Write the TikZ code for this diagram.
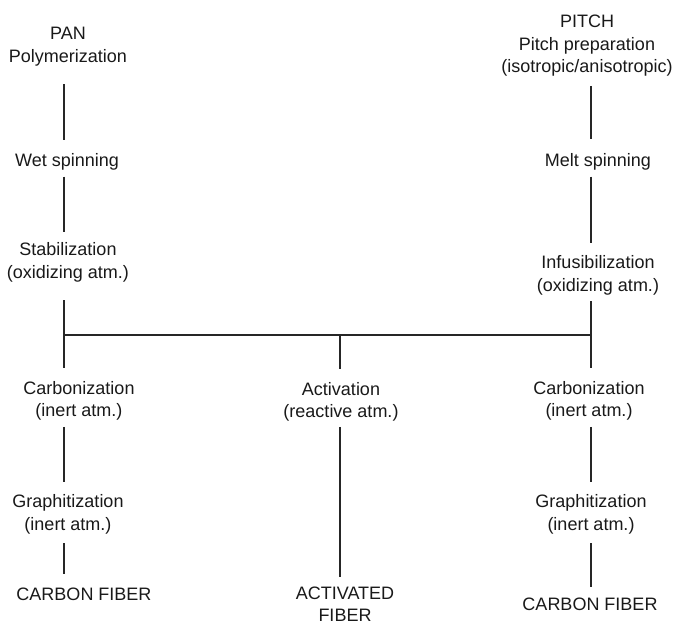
\documentclass[tikz,border=0pt]{standalone}
\usepackage{fontspec}
\setmainfont{Liberation Sans}
\usepackage{tikz}
\usetikzlibrary{positioning}

\begin{document}
\begin{tikzpicture}[
    x=1pt, y=-1pt,
    every node/.style={inner sep=0pt, align=center, text=black!90,
                       font=\fontsize{18}{22.5}\selectfont},
    link/.style={draw=black!85, line width=1.2pt,
                 shorten <=6pt, shorten >=13pt},
    bar/.style={draw=black!85, line width=1.2pt}
  ]
  \useasboundingbox (0,0) rectangle (674,621);

  % columns of the three routes
  \coordinate (colL) at (64,0);
  \coordinate (colM) at (340,0);
  \coordinate (colR) at (591,0);
  \coordinate (jL) at (64,335);
  \coordinate (jM) at (340,335);
  \coordinate (jR) at (591,335);

  % PAN route
  \node (pan)    at (68,46.5)  {PAN\\Polymerization};
  \node (wet)    at (67,162)   {Wet spinning};
  \node (stab)   at (68,262.5) {Stabilization\\(oxidizing atm.)};
  \node (carbL)  at (79,401)   {Carbonization\\(inert atm.)};
  \node (graphL) at (68,514.5) {Graphitization\\(inert atm.)};
  \node (fiberL) at (84,594)   {CARBON FIBER};

  % PITCH route
  \node (pitch)  at (587,46)   {PITCH\\Pitch preparation\\(isotropic/anisotropic)};
  \node (melt)   at (598,162)  {Melt spinning};
  \node (infus)  at (598,275.5) {Infusibilization\\(oxidizing atm.)};
  \node (carbR)  at (589,401)  {Carbonization\\(inert atm.)};
  \node (graphR) at (591,514.5) {Graphitization\\(inert atm.)};
  \node (fiberR) at (590,604)  {CARBON FIBER};

  % activation
  \node (activ)  at (341,402)  {Activation\\(reactive atm.)};
  \node (actfib) at (345,604)  {ACTIVATED\\FIBER};

  \draw[link, shorten <=18pt] (pan.south -| colL) -- (wet.north -| colL);
  \draw[link, shorten >=10.5pt] (wet.south -| colL) -- (stab.north -| colL);
  \draw[link, shorten <=18pt, shorten >=0pt] (stab.south -| colL) -- (jL);
  \draw[link, shorten <=0pt] (jL) -- (carbL.north -| colL);
  \draw[link] (carbL.south -| colL) -- (graphL.north -| colL);
  \draw[link, shorten <=9pt] (graphL.south -| colL) -- (fiberL.north -| colL);

  \draw[link, shorten <=9pt, shorten >=14.5pt] (pitch.south -| colR) -- (melt.north -| colR);
  \draw[link] (melt.south -| colR) -- (infus.north -| colR);
  \draw[link, shorten >=0pt] (infus.south -| colR) -- (jR);
  \draw[link, shorten <=0pt] (jR) -- (carbR.north -| colR);
  \draw[link] (carbR.south -| colR) -- (graphR.north -| colR);
  \draw[link, shorten <=9pt, shorten >=10.5pt] (graphR.south -| colR) -- (fiberR.north -| colR);

  \draw[bar] (jL) -- (jM) -- (jR);
  \draw[link, shorten <=0pt] (jM) -- (activ.north -| colM);
  \draw[link, shorten <=5pt, shorten >=9.5pt] (activ.south -| colM) -- (actfib.north -| colM);
\end{tikzpicture}
\end{document}
